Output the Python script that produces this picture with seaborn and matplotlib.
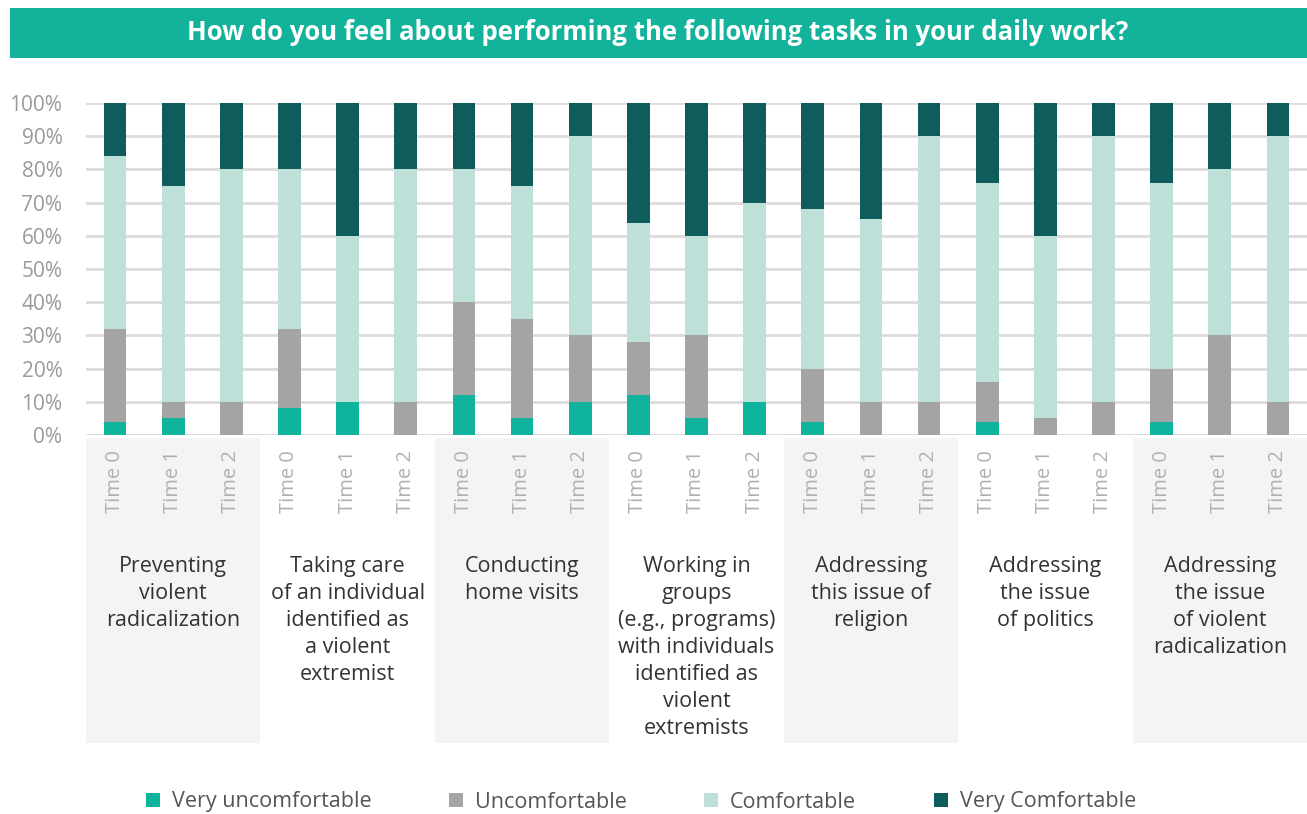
import matplotlib
matplotlib.use("Agg")
import matplotlib.pyplot as plt
import matplotlib.transforms as mtransforms
from matplotlib.patches import Rectangle, Patch
import seaborn as sns
import pandas as pd
import numpy as np

tasks = [
    "Preventing\nviolent\nradicalization",
    "Taking care\nof an individual\nidentified as\na violent\nextremist",
    "Conducting\nhome visits",
    "Working in\ngroups\n(e.g., programs)\nwith individuals\nidentified as\nviolent\nextremists",
    "Addressing\nthis issue of\nreligion",
    "Addressing\nthe issue\nof politics",
    "Addressing\nthe issue\nof violent\nradicalization",
]
times = ["Time 0", "Time 1", "Time 2"]
series_names = ["Very uncomfortable", "Uncomfortable", "Comfortable", "Very Comfortable"]
very_uncomfortable = [4, 5, 0, 8, 10, 0, 12, 5, 10, 12, 5, 10, 4, 0, 0, 4, 0, 0, 4, 0, 0]
uncomfortable = [28, 5, 10, 24, 0, 10, 28, 30, 20, 16, 25, 0, 16, 10, 10, 12, 5, 10, 16, 30, 10]
comfortable = [52, 65, 70, 48, 50, 70, 40, 40, 60, 36, 30, 60, 48, 55, 80, 60, 55, 80, 56, 50, 80]
very_comfortable = [16, 25, 20, 20, 40, 20, 20, 25, 10, 36, 40, 30, 32, 35, 10, 24, 40, 10, 24, 20, 10]
colors = ["#10b39b", "#a4a4a4", "#bde0d9", "#0e5c5c"]

slots = [f"{i}|{t}" for i in range(len(tasks)) for t in times]
df = pd.DataFrame({
    "slot": slots,
    "vu": very_uncomfortable,
    "u": uncomfortable,
    "c": comfortable,
    "vc": very_comfortable,
})
df["cum1"] = df["vu"]
df["cum2"] = df["cum1"] + df["u"]
df["cum3"] = df["cum2"] + df["c"]
df["cum4"] = df["cum3"] + df["vc"]

sns.set_theme(style="white")
plt.rcParams["font.family"] = ["Open Sans", "DejaVu Sans"]

W, H = 1307, 814
fig = plt.figure(figsize=(W / 100, H / 100), dpi=100)
fig.patch.set_facecolor("white")

ax = fig.add_axes([86 / W, (H - 435) / H, (W - 86) / W, (435 - 103) / H])
ax.set_facecolor("none")

for col, colr in zip(["cum4", "cum3", "cum2", "cum1"], colors[::-1]):
    sns.barplot(data=df, x="slot", y=col, order=slots, color=colr, width=0.39,
                errorbar=None, ax=ax, saturation=1, linewidth=0, zorder=2)

ax.set_xlim(-0.5, len(slots) - 0.5)
ax.set_ylim(0, 100)
ax.set_yticks(range(0, 101, 10))
ax.set_yticklabels([f"{v}%" for v in range(0, 101, 10)])
ax.set_xticks(range(len(slots)))
ax.set_xticklabels(times * len(tasks), rotation=90)
ax.set_xlabel("")
ax.set_ylabel("")
for s in ax.spines.values():
    s.set_visible(False)
ax.yaxis.grid(True, color="#dcdcdc", linewidth=2, zorder=0)
ax.set_axisbelow(True)
ax.tick_params(axis="y", length=0, pad=17, labelsize=15, labelcolor="#9a9a9a")
ax.tick_params(axis="x", length=0, pad=11, labelsize=14.5, labelcolor="#b0b0b0")

# group backgrounds and labels
blend = mtransforms.blended_transform_factory(ax.transData, fig.transFigure)
for g, label in enumerate(tasks):
    if g % 2 == 0:
        rect = Rectangle((3 * g - 0.5, (H - 743) / H), 3, (743 - 438) / H,
                         transform=blend, facecolor="#f3f4f6", edgecolor="none", zorder=-1)
        fig.add_artist(rect)
    ax.text(3 * g + 1, (H - 556) / H, label, transform=blend, ha="center", va="top",
            multialignment="center", fontsize=15.5, color="#333333", linespacing=1.37)

# title banner
fig.add_artist(Rectangle((10 / W, (H - 58) / H), (W - 10) / W, 50 / H,
                         transform=fig.transFigure, facecolor="#13b39b", edgecolor="none"))
fig.text(658 / W, (H - 33) / H,
         "How do you feel about performing the following tasks in your daily work?",
         ha="center", va="center", color="white", fontsize=18.5, fontweight="bold")

# legend
handles = [Patch(facecolor=c, edgecolor="none", label=n) for c, n in zip(colors, series_names)]
fig.legend(handles=handles, loc="center", bbox_to_anchor=(641 / W, (H - 802) / H), ncol=4,
           frameon=False, fontsize=15.5, handlelength=0.65, handleheight=0.65,
           handletextpad=0.55, columnspacing=3.6, labelcolor="#555555")

fig.savefig("out.png", dpi=100)
